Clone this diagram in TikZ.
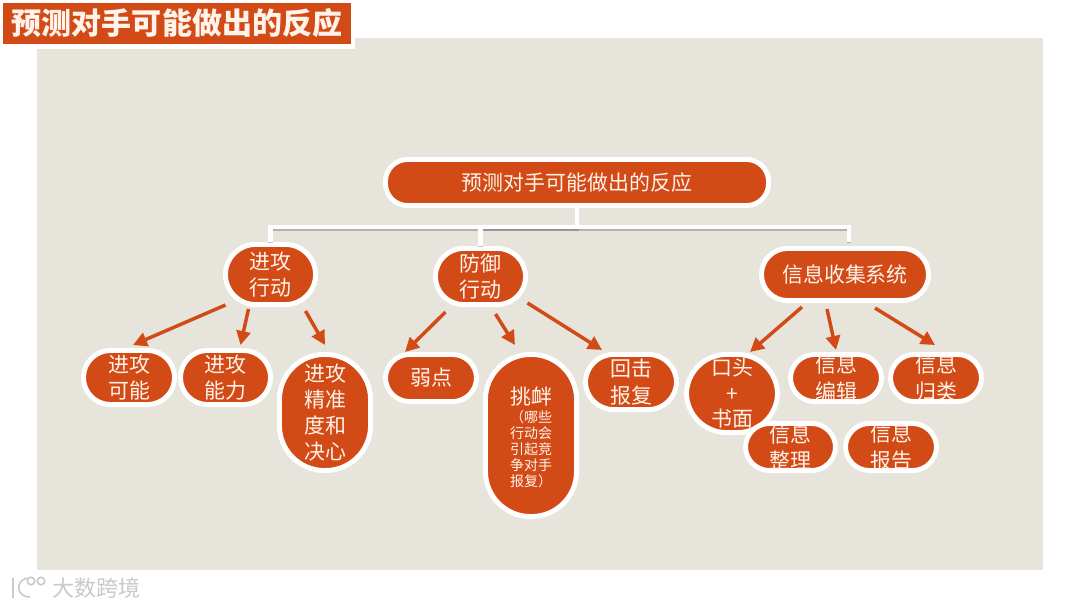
\documentclass[tikz,border=0pt]{standalone}
\usepackage{fontspec}
\setmainfont{Noto Sans CJK SC}
\usetikzlibrary{calc,shadows,arrows.meta}
\definecolor{rust}{HTML}{D24A16}
\definecolor{panel}{HTML}{E7E4DC}
\definecolor{cream}{HTML}{FFF3EA}
\definecolor{mark}{HTML}{C9C9C6}
\tikzset{
  softshadow/.style={drop shadow={shadow xshift=0.7pt,shadow yshift=-1.2pt,fill=black,opacity=.35}},
  pill/.style n args={3}{draw=white,line width=3.7pt,fill=rust,text=cream,align=center,inner sep=0pt,
    minimum width=#1*0.75pt-3.7pt,minimum height=#2*0.75pt-3.7pt,rounded corners=#3*0.75pt,softshadow,
    font=\fontsize{15.7}{19.7}\selectfont},
  wire/.style={draw=white,line width=3.5pt,preaction={draw=black!55,opacity=.45,line width=3.5pt,transform canvas={yshift=-1.1pt}}},
  arrowline/.style={draw=rust,line width=2.6pt,-{Triangle[length=10.5pt,width=10.5pt]}},
  logoline/.style={draw=mark,line width=1.2pt},
}
\begin{document}
\begin{tikzpicture}[x=0.75pt,y=-0.75pt]
\useasboundingbox (0,0) rectangle (1080,608);
\fill[white] (0,0) rectangle (1080,608);
\fill[panel] (37,38) rectangle (1043,570);
% title
\node[draw=white,line width=3.4pt,fill=rust,text=cream,inner sep=0pt,minimum width=352*0.75pt,minimum height=45.5*0.75pt,softshadow,
  font=\fontsize{22.5}{26}\selectfont\bfseries] (title) at (177,23.5) {预测对手可能做出的反应};
% nodes
\node[pill={388}{51}{22}] (top) at (577,182.5) {预测对手可能做出的反应};
\node[pill={95}{65}{30}] (act) at (270.5,274.5) {进攻\\行动};
\node[pill={95}{61}{28}] (def) at (480.5,276.5) {防御\\行动};
\node[pill={172}{57}{26}] (info) at (845,274.5) {信息收集系统};
\node[pill={96}{59}{27}] (a1) at (129,377.5) {进攻\\可能};
\node[pill={95}{59}{27}] (a2) at (225.5,377.5) {进攻\\能力};
\node[pill={96}{121}{45}] (a3) at (325,412.5) {进攻\\精准\\度和\\决心};
\node[pill={96}{52}{24}] (d1) at (431,378) {弱点};
\node[pill={96}{167}{45}] (d2) at (531,435.5) {};
\node[pill={96}{60}{28}] (d3) at (631,382) {回击\\报复};
\node[pill={96}{83}{40}] (i1) at (732,393.5) {口头\\[-0.5pt]+\\[-0.5pt]书面};
\node[pill={96}{52}{24}] (i2) at (836,378) {信息\\编辑};
\node[pill={96}{52}{24}] (i3) at (936,378) {信息\\归类};
\node[pill={95}{52}{24}] (i4) at (790.5,447) {信息\\整理};
\node[pill={96}{52}{24}] (i5) at (891,447) {信息\\报告};
\node[text=cream,inner sep=0pt,font=\fontsize{15.7}{19.7}\selectfont] (d2head) at (531,396.5) {挑衅};
\node[text=cream,inner sep=0pt,align=center,font=\fontsize{10.5}{12}\selectfont] (d2body) at (531,449) {（哪些\\行动会\\引起竞\\争对手\\报复）};
% bus
\coordinate (bus) at (577,227);
\draw[wire] (top.south) -- (bus) -| (act.north);
\draw[wire] (bus) -| (def.north);
\draw[wire] (bus) -| ($(info.north)+(4,-4)$);
% arrows
\draw[arrowline] ($(act.south)+(-45,-2)$) -- ($(a1.north)+(4,-3)$);
\draw[arrowline] ($(act.south)+(-22,2)$) -- ($(a2.north)+(15,-3)$);
\draw[arrowline] ($(act.south)+(35,4)$) -- ($(a3.north)+(0,-7)$);
\draw[arrowline] ($(def.south)+(-35,5)$) -- ($(d1.north)+(-26,0)$);
\draw[arrowline] ($(def.south)+(15,7)$) -- ($(d2.north)+(-16,-7)$);
\draw[arrowline] ($(def.south)+(47,-4)$) -- ($(d3.north)+(-29,-2)$);
\draw[arrowline] ($(info.south)+(-43,4)$) -- ($(i1.north)+(18,0)$);
\draw[arrowline] ($(info.south)+(-18,6)$) -- ($(i2.north)+(0,-2)$);
\draw[arrowline] ($(info.south)+(30,5)$) -- ($(i3.north)+(-1,-7)$);
% watermark
\draw[logoline] (13,578) -- (13,598);
\draw[logoline] (27,578) .. controls (15,581) and (16,597) .. (30,597);
\draw[logoline] (31,581) circle (3.8);
\draw[logoline] (41,581) circle (3.8);
\node[text=mark,inner sep=0pt,font=\fontsize{16.5}{19}\selectfont] (wm) at (96,588) {大数跨境};
\end{tikzpicture}
\end{document}
